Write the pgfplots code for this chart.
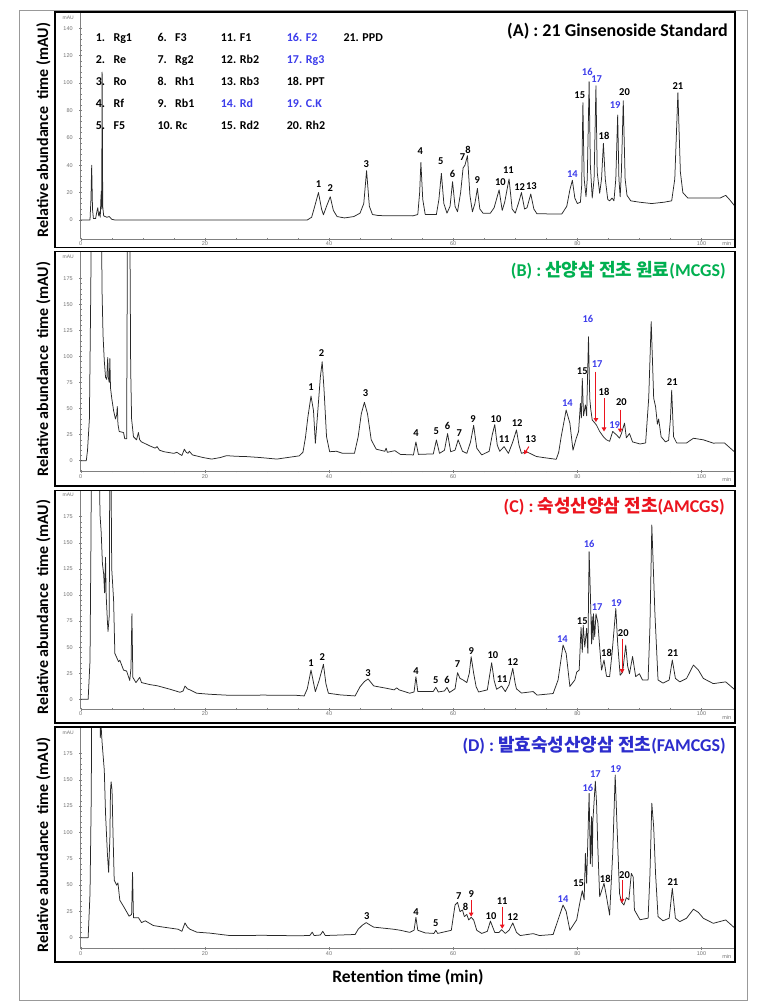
\documentclass[border=0pt]{standalone}
\usepackage{pgfplots}
\pgfplotsset{compat=1.18}
\usepackage{fontspec}
\setmainfont{Carlito}
\newfontfamily\krfont{Noto Sans CJK KR}
\newfontfamily\tickfont{Liberation Sans}
\usetikzlibrary{arrows.meta}
\definecolor{kblue}{RGB}{60,60,235}
\definecolor{tblue}{RGB}{45,45,205}
\definecolor{kgreen}{RGB}{0,176,80}
\definecolor{kred}{RGB}{235,20,30}
\definecolor{tracecol}{RGB}{40,40,40}
\pgfplotsset{
  chrom/.style={
    scale only axis, width=654.3pt, xmin=0, xmax=105.4, anchor=south west,
    axis x line=bottom, axis y line=left,
    axis line style={-, gray, line width=0.6pt},
    tick align=center,
    major tick length=3pt, minor tick length=1.6pt,
    tick style={gray, line width=0.4pt},
    xtick={0,20,40,60,80,100}, minor x tick num=3,
    minor y tick num=4,
    tick label style={font=\tickfont\fontsize{5.5}{6}\selectfont, text=gray!90!black},
    xticklabel style={inner sep=1pt},
    yticklabel style={xshift=-3pt},
    /pgf/number format/assume math mode=true,
    clip=true,
  },
  trace/.style={tracecol, line width=0.75pt, no marks, line join=round},
}
\tikzset{
  lab/.style={font=\bfseries\fontsize{10.5}{11}\selectfont, inner sep=0pt},
  blab/.style={lab, text=kblue},
  rarrow/.style={kred, line width=1pt, -{Triangle[length=4pt,width=4.5pt]}},
}
\newcommand{\leg}[3][black]{\node[anchor=base west, inner sep=0pt, text=#1, font=\bfseries\fontsize{12}{14}\selectfont] at #2 {#3};}
\begin{document}
\begin{tikzpicture}[x=1pt,y=1pt]
\useasboundingbox (0,0) rectangle (772,1004);
\fill[white] (0,0) rectangle (772,1004);
% ---------------- Panel A ----------------
\begin{axis}[chrom, at={(80.7pt,764.7pt)}, height=227.3pt, ymin=-14.1, ymax=151.9, ytick={0,20,...,140}]
\addplot[trace] coordinates {(0,0) (1.5,0) (1.65,15) (1.77,40) (1.9,8) (2.05,1) (2.4,1) (2.6,6) (2.75,9) (2.9,3) (3.05,6) (3.15,2) (3.25,15) (3.32,21) (3.38,8) (3.45,108) (3.55,10) (3.7,3) (4.2,2) (4.6,2.5) (5.0,0.5) (5.5,0) (36.5,0) (37.2,2) (37.7,10) (38.3,20) (38.8,8) (39.1,3.8) (39.6,10) (40.2,17) (40.7,7) (41.3,2.5) (42.5,1.5) (44,2.5) (45,5) (45.6,12) (46.05,36) (46.5,10) (47.0,4) (48,3.2) (53.5,3) (54.3,4) (54.6,20) (54.8,42) (55.1,15) (55.5,4) (57.3,4) (57.7,15) (58.1,34) (58.5,12) (59.0,5) (59.5,10) (59.9,28) (60.3,10) (60.7,6) (61.2,20) (61.6,38) (61.9,40) (62.3,47) (62.7,18) (63.1,6) (63.5,12) (63.9,23) (64.3,8) (64.8,5) (66.0,5) (66.6,9) (67.4,22) (67.9,7) (68.3,13) (69.0,30) (69.5,8) (70.0,5) (70.5,12) (71.0,20) (71.5,8) (71.9,9) (72.5,19) (73.0,8) (73.5,4.5) (77.5,4.4) (78.3,10) (78.8,22) (79.2,29) (79.6,16) (80.0,12) (80.5,13) (80.7,25) (80.9,85.7) (81.1,30) (81.4,17) (81.6,30) (81.9,101) (82.1,40) (82.4,16) (82.7,30) (83.0,98) (83.2,35) (83.6,19.5) (83.9,30) (84.2,56) (84.5,30) (84.9,15) (85.2,14) (85.6,16) (85.9,14) (86.2,30) (86.5,76.7) (86.7,30) (86.9,17) (87.1,35) (87.4,87) (87.7,30) (88.0,18) (88.6,14) (90,13) (92,12) (94,13) (95.2,14) (95.7,30) (96.2,93) (96.6,35) (97.0,20) (97.8,16) (99,16) (101,16) (103,16) (103.9,18) (104.5,15) (105.4,10)};
\node[lab] at (axis cs:38.3,26.3) {1};
\node[lab] at (axis cs:40.2,23) {2};
\node[lab] at (axis cs:46,41) {3};
\node[lab] at (axis cs:54.7,50.4) {4};
\node[lab] at (axis cs:58,43) {5};
\node[lab] at (axis cs:59.9,33.5) {6};
\node[lab] at (axis cs:61.5,46) {7};
\node[lab] at (axis cs:62.4,51.5) {8};
\node[lab] at (axis cs:63.9,29) {9};
\node[lab] at (axis cs:67.6,28) {10};
\node[lab] at (axis cs:68.9,36.5) {11};
\node[lab] at (axis cs:70.7,24.4) {12};
\node[lab] at (axis cs:72.6,24.4) {13};
\node[blab] at (axis cs:79.2,33.5) {14};
\node[lab] at (axis cs:80.4,91.3) {15};
\node[blab] at (axis cs:81.6,108) {16};
\node[blab] at (axis cs:83.1,103) {17};
\node[lab] at (axis cs:84.3,61.3) {18};
\node[blab] at (axis cs:86.1,84) {19};
\node[lab] at (axis cs:87.6,93.7) {20};
\node[lab] at (axis cs:96.2,98) {21};
\end{axis}
% ---------------- Panel B ----------------
\begin{axis}[chrom, at={(80.7pt,532.3pt)}, height=220pt, ymin=-10.6, ymax=200.6, ytick={0,25,...,175}]
\addplot[trace] coordinates {(0,0) (0.9,0) (1.1,10) (1.4,40) (1.6,150) (1.75,250) (3.3,250) (3.45,160) (3.6,120) (3.8,96) (4.0,80) (4.2,78) (4.35,99) (4.45,80) (4.6,75) (4.7,98) (4.8,70) (5.0,60) (5.3,48) (5.6,40) (5.8,44) (5.9,52) (6.0,35) (6.2,28) (6.9,27) (7.1,21) (7.4,21) (7.55,250) (7.9,250) (8.05,89) (8.2,40) (8.5,23) (9.0,20) (9.3,27) (9.5,20) (9.8,18) (10.5,16) (11.2,14) (12.0,12) (12.3,13.5) (12.7,10) (13.4,8.6) (15.0,7) (15.5,8) (16.0,6) (16.3,5) (16.7,11) (17.0,8) (17.3,7) (17.5,9) (18.0,5.5) (19.7,3) (21.1,1.5) (22.5,3) (23.5,4.8) (25,4.2) (26.7,3.9) (28.9,3) (31.6,1.5) (32.5,2.3) (35.2,4.6) (35.8,8) (36.2,22) (36.6,42) (37.1,62) (37.5,48) (37.8,16.7) (38.2,48) (38.6,80) (38.9,95) (39.2,68) (39.6,23) (40.1,8.6) (41.2,9) (42.2,7) (44.1,7) (44.7,23) (45.2,45) (45.7,56) (46.2,45) (46.8,20) (47.6,11) (49.0,9) (49.2,12) (49.4,8) (50.6,9.6) (51.5,6) (53.6,5.5) (54.0,18) (54.4,6) (56.8,6.5) (57.3,19.8) (57.8,7) (58.6,10) (59.1,26) (59.6,8.6) (60.3,10) (60.8,20) (61.5,9) (62.2,7) (62.8,18) (63.3,33.9) (63.8,12) (64.6,5.5) (65.8,9) (66.3,25) (66.7,34.6) (67.1,15) (67.5,9) (68.2,13.5) (68.9,7) (69.6,18) (70.2,29.5) (70.6,15) (71.0,7) (71.8,8.6) (73.4,4) (74.5,3) (76.6,1.3) (77.0,8) (77.4,23) (78.2,48.6) (78.8,36) (79.3,10) (79.8,21) (80.2,28) (80.5,55) (80.65,41) (80.8,79) (81.0,43) (81.3,53.5) (81.5,43) (81.8,119) (82.0,60) (82.15,50) (82.4,39) (82.7,37) (83.1,34) (83.6,28) (84.2,23) (84.7,20) (85.2,18.5) (85.7,28) (86.3,24.8) (86.8,21.6) (87.1,26) (87.6,36) (87.9,22) (88.4,26) (88.9,18) (90.1,16) (91.0,17) (91.5,60) (91.9,133.5) (92.3,60) (92.6,52) (92.9,35) (93.1,40) (93.5,23) (94.2,18) (94.7,19.5) (95.0,40) (95.2,67.7) (95.5,23) (96.0,17) (97.6,17) (98.7,21.5) (100.3,20) (101.9,16.8) (103.7,17) (105.4,8)};
\node[lab] at (axis cs:37.1,71) {1};
\node[lab] at (axis cs:38.8,103) {2};
\node[lab] at (axis cs:45.9,64.7) {3};
\node[lab] at (axis cs:54.0,26.2) {4};
\node[lab] at (axis cs:57.3,27.9) {5};
\node[lab] at (axis cs:59.1,33.3) {6};
\node[lab] at (axis cs:61.0,26.2) {7};
\node[lab] at (axis cs:63.2,39.7) {9};
\node[lab] at (axis cs:66.9,39.7) {10};
\node[lab] at (axis cs:68.2,20.5) {11};
\node[lab] at (axis cs:70.3,36.5) {12};
\node[lab] at (axis cs:72.5,20.5) {13};
\node[blab] at (axis cs:78.4,55.7) {14};
\node[lab] at (axis cs:80.8,86.4) {15};
\node[blab] at (axis cs:81.7,135.7) {16};
\node[blab] at (axis cs:83.2,92.5) {17};
\node[lab] at (axis cs:84.3,66.2) {18};
\node[blab] at (axis cs:86.0,34.2) {19};
\node[lab] at (axis cs:87.1,56) {20};
\node[lab] at (axis cs:95.3,75) {21};
\draw[rarrow] (axis cs:72.2,13.5) -- (axis cs:71.4,6);
\draw[rarrow] (axis cs:83.0,85.4) -- (axis cs:83.0,37);
\draw[rarrow] (axis cs:84.3,60) -- (axis cs:84.3,28);
\draw[rarrow] (axis cs:86.9,49) -- (axis cs:86.9,27);
\end{axis}
% ---------------- Panel C ----------------
\begin{axis}[chrom, at={(80.7pt,294.7pt)}, height=218.6pt, ymin=-9.6, ymax=199.9, ytick={0,25,...,175}]
\addplot[trace] coordinates {(0,0) (1.2,0) (1.5,37) (1.65,150) (1.75,250) (3.0,250) (3.1,178) (3.3,160) (3.5,130) (3.7,120) (3.85,102) (4.0,136) (4.1,100) (4.3,75) (4.4,65) (4.6,80) (4.7,250) (4.85,250) (5.0,125) (5.3,95) (5.5,44) (5.8,40) (6.1,36) (6.3,37.5) (6.9,28) (7.4,27) (7.9,18) (8.1,30) (8.25,82) (8.4,21) (8.9,16) (9.5,21) (9.8,16) (11.2,14) (12.3,13) (14.4,9.6) (16.0,6.7) (16.5,8) (16.8,12.7) (17.2,10) (17.6,9) (18.7,5.8) (20.8,4.8) (24.0,3.8) (29.4,4) (34.7,3.8) (36.0,3.2) (36.5,10) (37.1,28) (37.5,16) (37.8,7.3) (38.4,18) (39.1,33.5) (39.5,15) (39.9,5.8) (41.8,4.2) (44.2,3.2) (45.0,12) (45.7,17) (46.3,19.5) (47.2,12.8) (49.3,10.5) (50.5,9) (50.9,11) (51.3,9) (53.0,5.8) (53.7,7) (54.0,21.7) (54.3,7.4) (56.8,7.5) (57.2,11.5) (57.6,7) (58.6,8) (59.0,11.5) (59.4,6.5) (60.3,10) (60.7,25.5) (61.1,20) (61.6,18.5) (62.2,16) (62.6,25) (62.9,40.8) (63.3,25) (63.7,12) (64.1,7) (65.5,9) (66.2,35) (66.6,18) (67.0,9.6) (67.8,12.7) (68.4,7.4) (69.0,14) (69.6,29.7) (70.0,15) (70.2,10) (71.0,6) (72.9,7.4) (73.5,4) (76.1,5.5) (76.9,18.5) (77.7,52) (78.2,44) (78.8,12.3) (79.6,18.5) (79.9,26) (80.3,28) (80.6,69) (80.8,45) (80.95,71) (81.2,50) (81.5,68) (81.7,44) (81.9,141.4) (82.1,101.5) (82.3,53) (82.4,79) (82.55,57) (82.6,82) (82.8,60) (83.0,82) (83.3,74) (83.6,50) (83.9,28) (84.3,37.6) (84.7,22) (85.2,21.7) (85.6,44.5) (86.2,87) (86.5,53.5) (86.9,23) (87.3,26) (87.8,52) (88.1,32) (88.4,24.5) (88.9,41) (89.4,21.7) (90.0,24.5) (90.5,18.5) (91.4,18.5) (91.7,70) (92.0,167) (92.5,82) (93.0,18.5) (93.8,15.5) (94.8,18.5) (95.3,37.6) (95.8,20) (96.5,16.7) (97.6,20) (98.7,32.8) (99.5,28) (100.3,20) (101.9,15) (103.9,16.7) (105.4,9)};
\node[lab] at (axis cs:37.1,34.5) {1};
\node[lab] at (axis cs:38.9,40.8) {2};
\node[lab] at (axis cs:46.3,25.5) {3};
\node[lab] at (axis cs:54.0,27.4) {4};
\node[lab] at (axis cs:57.2,18.5) {5};
\node[lab] at (axis cs:59.0,18.5) {6};
\node[lab] at (axis cs:60.7,33.5) {7};
\node[lab] at (axis cs:62.9,46.3) {9};
\node[lab] at (axis cs:66.4,42.5) {10};
\node[lab] at (axis cs:67.9,19.2) {11};
\node[lab] at (axis cs:69.6,36) {12};
\node[blab] at (axis cs:77.6,57.4) {14};
\node[lab] at (axis cs:80.8,75.3) {15};
\node[blab] at (axis cs:81.9,148.4) {16};
\node[blab] at (axis cs:83.2,88.1) {17};
\node[lab] at (axis cs:84.7,44.1) {18};
\node[blab] at (axis cs:86.3,92.6) {19};
\node[lab] at (axis cs:87.4,63.2) {20};
\node[lab] at (axis cs:95.4,44.1) {21};
\draw[rarrow] (axis cs:87.2,58) -- (axis cs:87.2,25);
\end{axis}
% ---------------- Panel D ----------------
\begin{axis}[chrom, at={(80.7pt,55.3pt)}, height=221.4pt, ymin=-10.5, ymax=199.8, ytick={0,25,...,175}]
\addplot[trace] coordinates {(0,0) (1.2,0) (1.5,42) (1.7,133.6) (1.8,250) (3.05,250) (3.15,190) (3.3,200) (3.45,185) (3.8,159) (4.0,118) (4.3,80) (4.5,62) (4.7,95) (4.8,140) (4.9,148) (5.05,140) (5.2,100) (5.4,54.6) (5.8,49.8) (6.0,52) (6.3,35.6) (7.1,27.7) (7.8,20.4) (8.2,22) (8.35,62) (8.5,19) (9.3,19) (9.8,14.3) (10.4,16) (11.7,11.5) (13.3,10) (15.7,8) (16.3,6) (16.8,14) (17.2,10) (17.6,8) (18.7,5.2) (20.8,4.3) (24.0,2) (29.4,2.2) (34.7,1.8) (36.9,2) (37.3,5.2) (37.6,2) (38.6,2.5) (39.0,6) (39.4,2) (44.2,3) (44.7,8) (45.4,12) (46.0,14.3) (46.6,12) (47.2,10) (50.4,8) (51.5,7) (53.0,5) (53.7,7) (54.0,19.3) (54.3,7) (55.5,4.5) (56.9,4) (57.2,7) (57.5,4) (59.7,7) (60.3,31) (60.7,33.5) (61.1,24.7) (61.5,26.3) (61.8,20) (62.2,22) (62.5,16.8) (62.9,19.3) (63.3,16.8) (63.8,7) (64.6,4) (65.5,6) (66.0,15.7) (66.7,5) (67.4,5) (67.8,7.6) (68.4,4) (69.0,7) (69.6,14) (70.2,5) (70.8,2) (72.9,3.8) (73.9,2) (76.1,3) (76.9,17) (77.7,31) (78.2,25) (78.8,7) (79.9,17) (80.4,33) (80.8,44.6) (81.1,36) (81.3,80) (81.5,51.6) (81.9,137) (82.1,70) (82.3,115) (82.4,67.6) (82.5,110) (82.9,148.6) (83.1,127.6) (83.3,86) (83.6,38.9) (84.3,51.6) (84.7,38.9) (85.2,21.5) (85.7,80) (86.1,154.5) (86.4,105) (86.8,42) (87.1,34) (87.5,31) (87.9,38) (88.3,36) (88.7,61) (89.0,57.6) (89.2,26.3) (90.1,17) (91.4,18.5) (91.7,60) (92.0,127.6) (92.3,105) (92.6,61) (93.0,20) (93.8,16) (94.8,18.5) (95.3,46.9) (95.8,18.5) (96.5,15.2) (97.6,18.5) (98.7,27) (99.5,24) (100.3,18.4) (101.9,13.6) (103.9,16.8) (105.4,8.9)};
\node[lab] at (axis cs:46.1,20) {3};
\node[lab] at (axis cs:54.0,23.8) {4};
\node[lab] at (axis cs:57.2,13.6) {5};
\node[lab] at (axis cs:60.9,39) {7};
\node[lab] at (axis cs:62.0,28.8) {8};
\node[lab] at (axis cs:62.9,41.6) {9};
\node[lab] at (axis cs:66.1,20.9) {10};
\node[lab] at (axis cs:67.9,34.8) {11};
\node[lab] at (axis cs:69.6,20) {12};
\node[blab] at (axis cs:77.7,36.7) {14};
\node[lab] at (axis cs:80.2,51.6) {15};
\node[blab] at (axis cs:81.7,141.8) {16};
\node[blab] at (axis cs:82.9,155.2) {17};
\node[lab] at (axis cs:84.5,55.4) {18};
\node[blab] at (axis cs:86.2,160.2) {19};
\node[lab] at (axis cs:87.6,59.5) {20};
\node[lab] at (axis cs:95.4,53.2) {21};
\draw[rarrow] (axis cs:62.9,35.8) -- (axis cs:62.9,20);
\draw[rarrow] (axis cs:67.9,29.5) -- (axis cs:67.9,8.5);
\draw[rarrow] (axis cs:87.2,54.8) -- (axis cs:87.2,33);
\end{axis}
% ---------------- frames and texts ----------------
\draw[gray!80, line width=0.8pt] (19.3,993.3) rectangle (747,3.3);
\draw[black, line width=1.6pt] (55,992) rectangle (735,756.3);
\draw[black, line width=1.6pt] (55,752.3) rectangle (735,518);
\draw[black, line width=1.6pt] (55,513.3) rectangle (735,281);
\draw[black, line width=1.6pt] (55,276.7) rectangle (735,41.7);
\foreach \yy in {985.7,747.3,509,271.3} {\node[anchor=east, inner sep=0pt, text=gray!90!black, font=\tickfont\fontsize{5}{6}\selectfont] at (74,\yy) {mAU};}
\foreach \yy in {760.7,524,286.7,47} {\node[inner sep=0pt, text=gray!90!black, font=\tickfont\fontsize{5.5}{6}\selectfont] at (726.7,\yy) {min};}
\node[anchor=east, inner sep=0pt, font=\bfseries\fontsize{18}{20}\selectfont] at (728,973.3) {(A) : 21 Ginsenoside Standard};
\node[anchor=east, inner sep=0pt, text=kgreen, font=\bfseries\fontsize{18}{20}\selectfont] at (726,733.3) {(B) : {\krfont\bfseries 산양삼 전초 원료}(MCGS)};
\node[anchor=east, inner sep=0pt, text=kred, font=\bfseries\fontsize{18}{20}\selectfont] at (725,497.3) {(C) : {\krfont\bfseries 숙성산양삼 전초}(AMCGS)};
\node[anchor=east, inner sep=0pt, text=tblue, font=\bfseries\fontsize{18}{20}\selectfont] at (726,259) {(D) : {\krfont\bfseries 발효숙성산양삼 전초}(FAMCGS)};
\foreach \yy in {874.1,635.1,397.1,159.2} {\node[rotate=90, inner sep=0pt, font=\bfseries\fontsize{16}{18}\selectfont] at (43.5,\yy) {Relative abundance\ \ time (mAU)};}
\node[inner sep=0pt, font=\bfseries\fontsize{17.5}{20}\selectfont] at (408,26.3) {Retention time (min)};
% legend block in panel A
\leg{(95.7,962.4)}{1.}\leg{(113.3,962.4)}{Rg1}
\leg{(95.7,940.8)}{2.}\leg{(113.3,940.8)}{Re}
\leg{(95.7,918.4)}{3.}\leg{(113.3,918.4)}{Ro}
\leg{(95.7,896.8)}{4.}\leg{(113.3,896.8)}{Rf}
\leg{(95.7,874.1)}{5.}\leg{(113.3,874.1)}{F5}
\leg{(157.3,962.4)}{6.}\leg{(175,962.4)}{F3}
\leg{(157.3,940.8)}{7.}\leg{(175,940.8)}{Rg2}
\leg{(157.3,918.4)}{8.}\leg{(175,918.4)}{Rh1}
\leg{(157.3,896.8)}{9.}\leg{(175,896.8)}{Rb1}
\leg{(157.3,874.1)}{10.}\leg{(175.5,874.1)}{Rc}
\leg{(220.7,962.4)}{11. F1}
\leg{(220.7,940.8)}{12. Rb2}
\leg{(220.7,918.4)}{13. Rb3}
\leg[kblue]{(220.7,896.8)}{14. Rd}
\leg{(220.7,874.1)}{15. Rd2}
\leg[kblue]{(286.7,962.4)}{16. F2}
\leg[kblue]{(286.7,940.8)}{17. Rg3}
\leg{(286.7,918.4)}{18. PPT}
\leg[kblue]{(286.7,896.8)}{19. C.K}
\leg{(286.7,874.1)}{20. Rh2}
\leg{(343.3,962.4)}{21. PPD}
\end{tikzpicture}
\end{document}
